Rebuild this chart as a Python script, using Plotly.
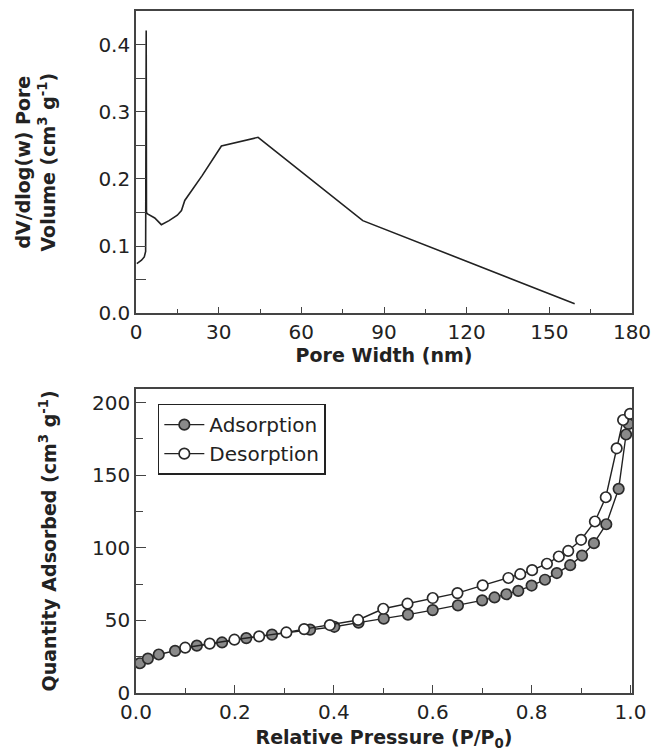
import plotly.graph_objects as go

# ---- Top panel: pore size distribution ----
pore_width = [0.3, 1.0, 2.0, 3.0, 3.5, 3.7, 3.8, 4.2, 5.0, 6.8, 9.2, 12.0, 15.0, 16.5, 17.7, 24.0, 31.0, 44.3, 82.3, 159.2]
pore_volume = [0.074, 0.076, 0.079, 0.084, 0.092, 0.421, 0.150, 0.148, 0.146, 0.142, 0.132, 0.138, 0.146, 0.153, 0.168, 0.205, 0.249, 0.262, 0.138, 0.0144]

# ---- Bottom panel: isotherm ----
ads_p = [0.008, 0.024, 0.046, 0.079, 0.123, 0.174, 0.223, 0.275, 0.352, 0.401, 0.450, 0.501, 0.550, 0.600, 0.651, 0.700, 0.725, 0.749, 0.773,
         0.800, 0.827, 0.851, 0.878, 0.902, 0.926, 0.951, 0.976, 0.991, 0.996]
ads_q = [20.5, 23.7, 26.5, 29.0, 32.6, 34.8, 37.8, 40.2, 43.6, 45.6, 48.5, 51.2, 54.0, 57.1, 60.3, 63.8, 65.8, 68.0, 70.3,
         74.0, 78.0, 82.6, 88.0, 94.6, 103.2, 116.2, 140.6, 178.0, 185.3]
des_p = [0.0995, 0.149, 0.199, 0.249, 0.304, 0.340, 0.392, 0.449, 0.500, 0.549, 0.600, 0.650, 0.701, 0.753, 0.777, 0.801, 0.831,
         0.855, 0.874, 0.900, 0.928, 0.950, 0.972, 0.985, 0.999]
des_q = [31.2, 34.0, 36.7, 39.0, 41.7, 44.0, 46.8, 50.3, 58.0, 61.5, 65.4, 68.8, 74.1, 79.2, 81.8, 84.6, 89.0,
         94.0, 97.8, 105.5, 118.1, 134.8, 168.5, 188.0, 192.2]

x_ticks_top = [0, 30, 60, 90, 120, 150, 180]
y_ticks_top = [0.0, 0.1, 0.2, 0.3, 0.4]
x_ticks_bot = [0.0, 0.2, 0.4, 0.6, 0.8, 1.0]
y_ticks_bot = [0, 50, 100, 150, 200]

FONT = "DejaVu Sans"
INK = "#222222"
FRAME = "#444444"

fig = go.Figure()

fig.add_trace(go.Scatter(x=pore_width, y=pore_volume, mode="lines",
                         line=dict(color=INK, width=1.6), showlegend=False,
                         xaxis="x", yaxis="y"))

fig.add_trace(go.Scatter(x=ads_p, y=ads_q, mode="lines+markers", name="Adsorption",
                         line=dict(color=INK, width=1.4),
                         marker=dict(symbol="circle", size=10.5, color="#8a8a8a",
                                     line=dict(color="#2a2a2a", width=1.7)),
                         xaxis="x2", yaxis="y2"))
fig.add_trace(go.Scatter(x=des_p, y=des_q, mode="lines+markers", name="Desorption",
                         line=dict(color=INK, width=1.4),
                         marker=dict(symbol="circle", size=10.5, color="white",
                                     line=dict(color="#2a2a2a", width=1.7)),
                         xaxis="x2", yaxis="y2"))

def ax(**kw):
    base = dict(showline=True, linecolor=FRAME, linewidth=1.6, mirror=True,
                ticks="inside", tickcolor=FRAME, tickwidth=1.4, showgrid=False,
                zeroline=False, automargin=False,
                tickfont=dict(family=FONT, size=20, color=INK),
                title_font=dict(family=FONT, size=19, color=INK))
    base.update(kw)
    return base

fig.update_layout(
    width=653, height=752,
    margin=dict(l=136, r=21, t=11, b=59),
    paper_bgcolor="white", plot_bgcolor="white",
    font=dict(family=FONT, color=INK),
    xaxis=ax(domain=[0, 1], range=[0, 180], anchor="y", tickvals=x_ticks_top,
             ticklen=7, minor=dict(dtick=15, ticks="inside", ticklen=5, tickcolor=FRAME, tickwidth=1.4),
             title=dict(text="<b>Pore Width (nm)</b>", standoff=2)),
    yaxis=ax(domain=[0.5567, 1.0], range=[0, 0.45], anchor="x", tickvals=y_ticks_top,
             tickformat=".1f", ticklen=10,
             minor=dict(dtick=0.05, ticks="inside", ticklen=10, tickcolor=FRAME, tickwidth=1.4),
             title=dict(text="<b>dV/dlog(w) Pore<br>Volume (cm<sup>3</sup> g<sup>-1</sup>)</b>", standoff=38)),
    xaxis2=ax(domain=[0, 1], range=[0, 1.003], anchor="y2", tickvals=x_ticks_bot,
              tickformat=".1f", ticklen=8,
              minor=dict(dtick=0.1, ticks="inside", ticklen=5, tickcolor=FRAME, tickwidth=1.4),
              title=dict(text="<b>Relative Pressure (P/P<sub>0</sub>)</b>", standoff=8)),
    yaxis2=ax(domain=[0, 0.4463], range=[0, 209.6], anchor="x2", tickvals=y_ticks_bot,
              ticklen=10, minor=dict(dtick=25, ticks="inside", ticklen=7, tickcolor=FRAME, tickwidth=1.4),
              title=dict(text="<b>Quantity Adsorbed (cm<sup>3</sup> g<sup>-1</sup>)</b>", standoff=30)),
    legend=dict(x=0.044, y=0.4243, xanchor="left", yanchor="top",
                bgcolor="white", bordercolor="#222222", borderwidth=1.5,
                font=dict(family=FONT, size=20, color=INK),
                itemwidth=40, tracegroupgap=0),
)

fig.write_html("out.html", config={"displayModeBar": False},
               post_script="document.body.style.margin='0';")
